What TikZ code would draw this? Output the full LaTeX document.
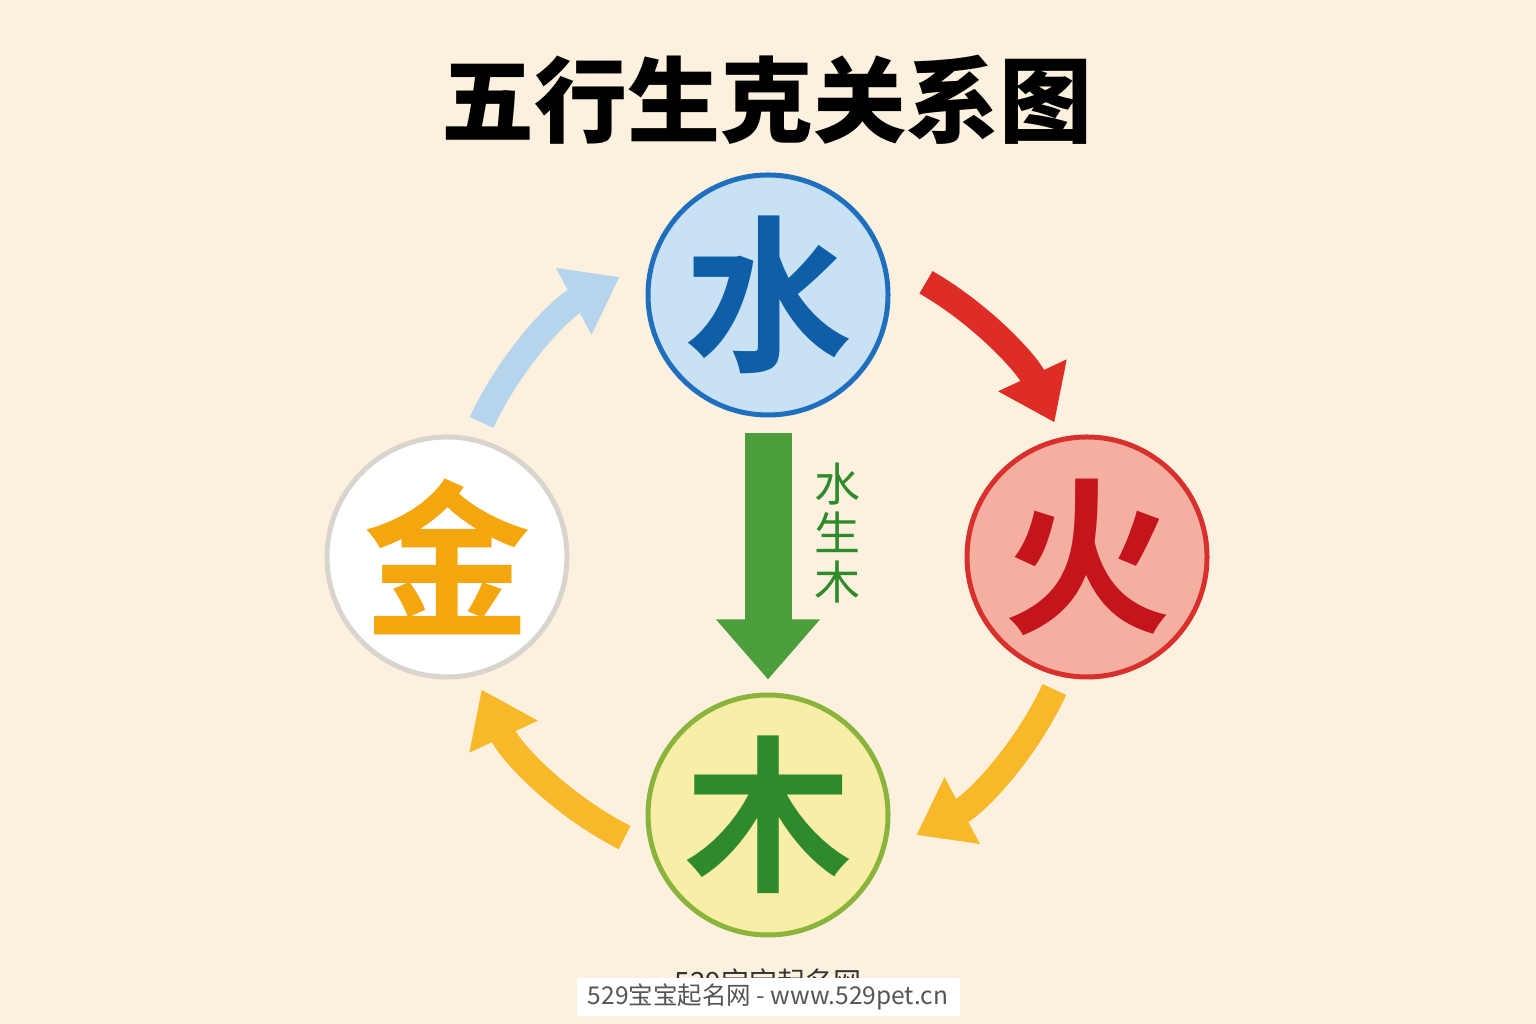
\documentclass[tikz,border=0pt]{standalone}
\usepackage{fontspec}
\newfontfamily\cjk{Noto Sans CJK SC}[BoldFont={Noto Sans CJK SC Bold}]
\newfontfamily\cjkblack{Noto Sans CJK SC Black}
\usetikzlibrary{arrows.meta}
\definecolor{bg}{HTML}{FCF1DF}
\definecolor{shuiFill}{HTML}{C8E2F4}
\definecolor{shuiLine}{HTML}{1F6FBE}
\definecolor{shuiText}{HTML}{0E5FA8}
\definecolor{huoFill}{HTML}{F5AFA0}
\definecolor{huoLine}{HTML}{D8302C}
\definecolor{huoText}{HTML}{C4141C}
\definecolor{muFill}{HTML}{F8EEA8}
\definecolor{muLine}{HTML}{8AB43C}
\definecolor{muText}{HTML}{2F8A2C}
\definecolor{jinFill}{HTML}{FFFFFF}
\definecolor{jinLine}{HTML}{D9D5CE}
\definecolor{jinText}{HTML}{F4A60E}
\definecolor{arrBlue}{HTML}{B6D4EC}
\definecolor{arrRed}{HTML}{DE2D26}
\definecolor{arrYellow}{HTML}{F7B82A}
\definecolor{arrGreen}{HTML}{4C9E3C}
\definecolor{labelGreen}{HTML}{2F8A2C}
\definecolor{wmGray}{HTML}{555555}
\tikzset{
  element/.style={circle, minimum size=240pt, inner sep=0pt, line width=5pt},
  elemchar/.style={inner sep=0pt, font=\cjk\bfseries\fontsize{168}{168}\selectfont},
  cyclearrow/.style={line width=26pt, -{Triangle[width=72pt,length=52pt]}},
  bigdown/.style={line width=47pt, arrGreen, -{Triangle[width=100pt,length=60pt]}, shorten <=16pt, shorten >=13pt},
}
\begin{document}
\begin{tikzpicture}[x=1pt,y=1pt]
\useasboundingbox (0,0) rectangle (1536,1024);
\fill[bg] (0,0) rectangle (1536,1024);

% title
\node[inner sep=0pt, font=\cjkblack\fontsize{93}{93}\selectfont] (title) at (767,924) {五行生克关系图};

% elements
\node[element, draw=shuiLine, fill=shuiFill] (shui) at (768,729) {};
\node[element, draw=huoLine, fill=huoFill] (huo) at (1087,467) {};
\node[element, draw=muLine, fill=muFill] (mu) at (768,209) {};
\node[element, draw=jinLine, fill=jinFill] (jin) at (447,467) {};

\node[elemchar, text=shuiText] (shuiT) at (shui) {水};
\node[elemchar, text=huoText] (huoT) at (huo) {火};
\node[elemchar, text=muText] (muT) at (mu) {木};
\node[elemchar, text=jinText] (jinT) at (jin) {金};

% cycle arrows
\coordinate (C) at (768,468);
\draw[cyclearrow, arrRed] ([shift={(60:316)}]C) arc[start angle=60, end angle=25, radius=316];
\draw[cyclearrow, arrYellow] ([shift={(-25:316)}]C) arc[start angle=-25, end angle=-62, radius=316];
\draw[cyclearrow, arrYellow] ([shift={(-117:316)}]C) arc[start angle=-117, end angle=-155, radius=316];
\draw[cyclearrow, arrBlue] ([shift={(155:316)}]C) arc[start angle=155, end angle=118, radius=316];

% central arrow
\draw[bigdown] (shui) -- (mu);
\node[inner sep=0pt, align=center, text=labelGreen, font=\cjk\fontsize{46}{49}\selectfont] (lbl) at (837,491) {水\\生\\木};

% watermark
\node[inner sep=0pt, text=black!80, font=\cjk\fontsize{28}{28}\selectfont] (wm1) at (768,42) {529宝宝起名网};
\node[fill=white, minimum width=383pt, minimum height=38pt, inner sep=0pt, text=wmGray, font=\cjk\fontsize{24.5}{24.5}\selectfont] (wm2) at (768,27) {529宝宝起名网 - www.529pet.cn};
\end{tikzpicture}
\end{document}
